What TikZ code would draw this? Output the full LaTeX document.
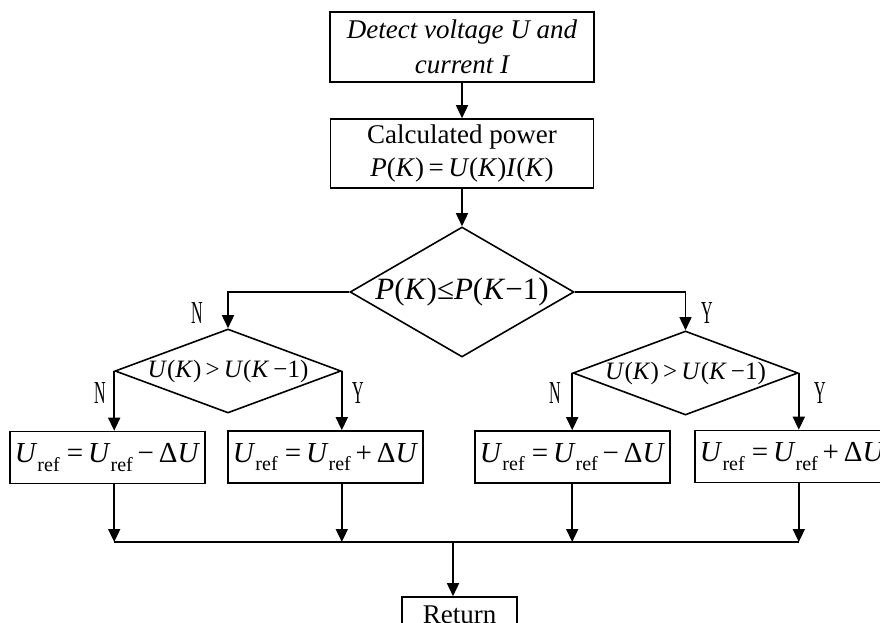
\documentclass[tikz,border=0pt]{standalone}
\usepackage{fontspec}
\setmainfont{Liberation Serif}
\usetikzlibrary{shapes.geometric,arrows.meta}
\newcommand\mi[1]{\textit{#1}}
\newcommand\refsub{\raisebox{-0.3em}{\fontsize{20}{20}\selectfont ref}}
\begin{document}
\begin{tikzpicture}[x=1pt,y=-1pt,
  line/.style={line width=1.6pt},
  arr/.style={line width=1.6pt,-{Triangle[width=12pt,length=13pt]}},
  box/.style={draw,line width=1.6pt,rectangle,inner sep=0pt,align=center,font=\fontsize{27}{35}\selectfont},
  mbox/.style={draw,line width=1.6pt,rectangle,inner sep=0pt,minimum width=195pt,minimum height=52pt,font=\fontsize{29}{29}\selectfont},
  dia/.style={draw,line width=1.6pt,diamond,inner sep=0pt},
  lab/.style={inner sep=0pt,font=\fontsize{32}{32}\selectfont}
]
\useasboundingbox (0,0) rectangle (880,623);
\clip (0,0) rectangle (880,623);

\node[box,font=\fontsize{27}{35}\selectfont\itshape,minimum width=264pt,minimum height=70pt] (detect) at (462,47)
  {Detect voltage U and\\current I};
\node[box,minimum width=263pt,minimum height=69pt] (calc) at (462,153.5)
  {Calculated power\\[-2pt]\mi{P}(\mi{K})\,=\,\mi{U}(\mi{K})\mi{I}(\mi{K})};

\node[dia,minimum width=224pt,minimum height=130pt,aspect=1.72,font=\fontsize{31}{31}\selectfont] (d1) at (462,292)
  {\mi{P}(\mi{K})≤\mi{P}(\mi{K}−1)};
\node[dia,minimum width=226pt,minimum height=84pt,aspect=2.69,font=\fontsize{25}{25}\selectfont] (d2L) at (228,371)
  {\mi{U}(\mi{K})\,>\,\mi{U}(\mi{K}\,−1)};
\node[dia,minimum width=225pt,minimum height=84pt,aspect=2.68,font=\fontsize{25}{25}\selectfont] (d2R) at (685.5,373)
  {\mi{U}(\mi{K})\,>\,\mi{U}(\mi{K}\,−1)};

\node[mbox] (b1) at (107.5,457.5) {\mi{U}\refsub\ =\,\mi{U}\refsub\,−\,Δ\mi{U}};
\node[mbox] (b2) at (325.5,457) {\mi{U}\refsub\ =\,\mi{U}\refsub\,+\,Δ\mi{U}};
\node[mbox] (b3) at (572.5,457) {\mi{U}\refsub\ =\,\mi{U}\refsub\,−\,Δ\mi{U}};
\node[mbox] (b4) at (792.5,456.5) {\mi{U}\refsub\ =\,\mi{U}\refsub\,+\,Δ\mi{U}};

\node[box,minimum width=115pt,minimum height=36pt] (ret) at (459.5,615) {Return};

\node[lab] (lN1) at (197,313) {\scalebox{0.5}[1]{N}};
\node[lab] (lY1) at (707,313) {\scalebox{0.5}[1]{Y}};
\node[lab] (lN2) at (100,393) {\scalebox{0.5}[1]{N}};
\node[lab] (lY2) at (358,393) {\scalebox{0.5}[1]{Y}};
\node[lab] (lN3) at (555,393) {\scalebox{0.5}[1]{N}};
\node[lab] (lY3) at (820,393) {\scalebox{0.5}[1]{Y}};

\draw[arr] (detect) -- (calc);
\draw[arr] (calc) -- (d1);
\draw[arr] (d1.west) -| (d2L.north);
\draw[arr] (d1.east) -| (d2R.north);
\draw[arr] (d2L.west) -- (d2L.west |- b1.north);
\draw[arr] (d2L.east) -- (d2L.east |- b2.north);
\draw[arr] (d2R.west) -- (d2R.west |- b3.north);
\draw[arr] (d2R.east) -- (d2R.east |- b4.north);

\coordinate (bus) at (453,542);
\draw[arr] (b1.south -| d2L.west) -- (bus -| d2L.west);
\draw[arr] (b2.south -| d2L.east) -- (bus -| d2L.east);
\draw[arr] (b3.south -| d2R.west) -- (bus -| d2R.west);
\draw[arr] (b4.south -| d2R.east) -- (bus -| d2R.east);
\draw[line] (bus -| d2L.west) -- (bus -| d2R.east);
\draw[arr] (bus) -- (bus |- ret.north);
\end{tikzpicture}
\end{document}
